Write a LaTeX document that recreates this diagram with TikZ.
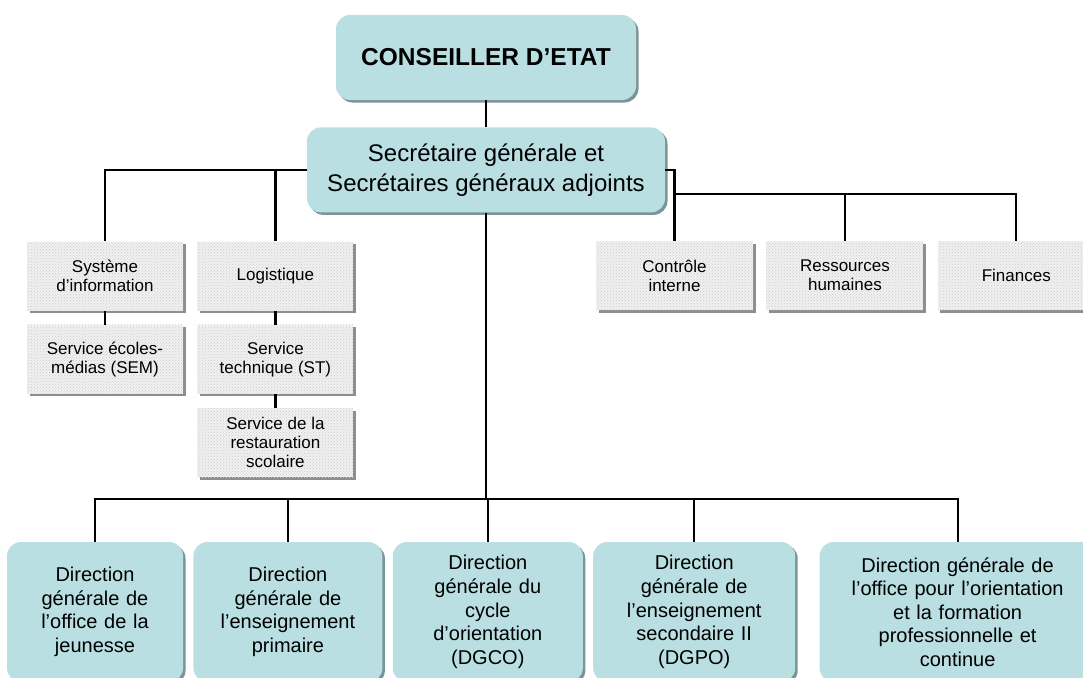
\documentclass[tikz,border=0pt]{standalone}
\usepackage{fontspec}
\setmainfont{Liberation Sans}
\usetikzlibrary{positioning,shadows,patterns}
\definecolor{bleu}{HTML}{B9DFE2}
\definecolor{bleuombre}{HTML}{7B9496}
\definecolor{grisombre}{HTML}{8E8E8E}

\begin{document}
\begin{tikzpicture}[x=1pt,y=-1pt,
    lien/.style={line width=2.2pt},
    tete/.style={fill=bleu,rounded corners=14pt,align=center,inner sep=0pt,
      drop shadow={shadow xshift=2.5pt,shadow yshift=-2.5pt,fill=bleuombre,opacity=1}},
    service/.style={fill=gray!12,postaction={pattern=crosshatch dots,pattern color=gray!40},
      minimum width=156pt,minimum height=69pt,align=center,inner sep=0pt,
      font=\fontsize{17}{19}\selectfont,
      drop shadow={shadow xshift=2.5pt,shadow yshift=-2.5pt,fill=grisombre,opacity=1}},
    direction/.style={tete,minimum height=140pt,font=\fontsize{20}{23.6}\selectfont}]
  \useasboundingbox (0,0) rectangle (1083,677);
  \node[tete,minimum width=300pt,minimum height=85pt,font=\bfseries\fontsize{24.5}{30}\selectfont] (ce) at (486,57.5) {CONSEILLER D’ETAT};
  \node[tete,minimum width=358pt,minimum height=85pt,font=\fontsize{24}{30}\selectfont,below=27pt of ce] (sg) {Secrétaire générale et\\Secrétaires généraux adjoints};

  \node[service] (si) at (105,276) {Système\\d’information};
  \node[service,right=14pt of si] (lo) {Logistique};
  \node[service,below=14pt of si] (sem) {Service écoles-\\médias (SEM)};
  \node[service,below=14pt of lo] (st) {Service\\technique (ST)};
  \node[service,below=14pt of st] (sr) {Service de la\\restauration\\scolaire};

  \node[service,minimum width=157pt] (ci) at (674.5,275.5) {Contrôle\\interne};
  \node[service,minimum width=157pt,right=13pt of ci] (rh) {Ressources\\humaines};
  \node[service,minimum width=157pt,right=14pt of rh] (fi) {Finances};

  \node[direction,text width=176pt] (d1) at (95,612) {Direction\\générale de\\l’office de la\\jeunesse};
  \node[direction,text width=189pt,right=10pt of d1] (d2) {Direction\\générale de\\l’enseignement\\primaire};
  \node[direction,text width=190pt,right=10pt of d2] (d3) {Direction\\générale du\\cycle\\d’orientation\\(DGCO)};
  \node[direction,text width=202pt,right=10pt of d3] (d4) {Direction\\générale de\\l’enseignement\\secondaire II\\(DGPO)};
  \node[direction,text width=276pt,right=24pt of d4] (d5) {Direction générale de\\l’office pour l’orientation\\et la formation\\professionnelle et\\continue};

  \coordinate (bd) at ([yshift=47pt]ci.north);
  \coordinate (bb) at (486,499);
  \draw[lien] (ce) -- (sg);
  \draw[lien] (sg.west) -| (si);
  \draw[lien] (lo) -- (lo |- sg.west);
  \draw[lien] (si) -- (sem);
  \draw[lien] (lo) -- (st);
  \draw[lien] (st) -- (sr);
  \draw[lien] (sg.east) -| (ci);
  \draw[lien] (bd) -| (fi);
  \draw[lien] (rh) -- (rh |- bd);
  \draw[lien] (sg) -- (sg |- bb);
  \draw[lien] (d1) |- (bb) -| (d5);
  \foreach \d in {d2,d3,d4}
    \draw[lien] (\d) -- (\d |- bb);
\end{tikzpicture}
\end{document}
